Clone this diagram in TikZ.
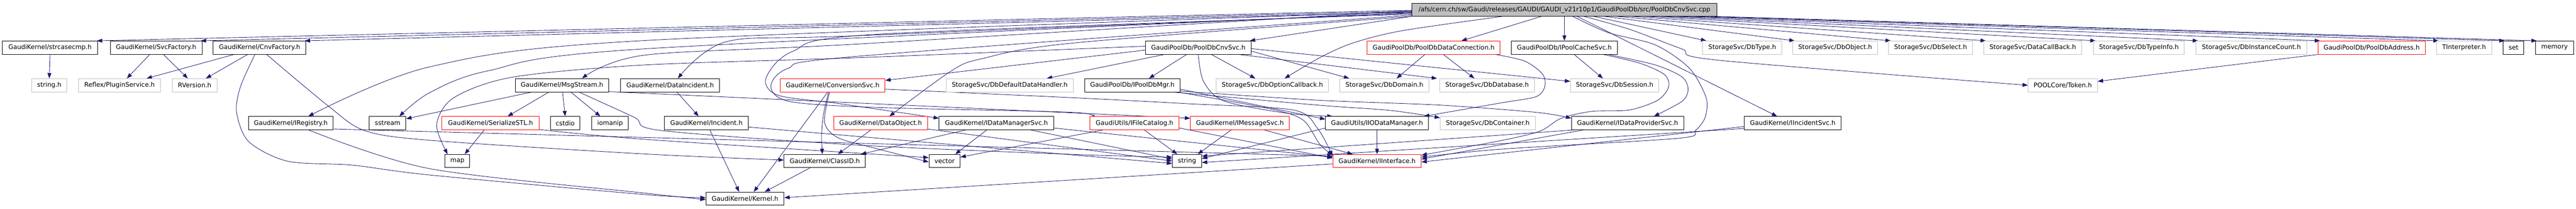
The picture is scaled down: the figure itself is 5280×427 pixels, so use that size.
\documentclass[tikz,border=0pt]{standalone}
\usepackage{fontspec}
\newfontfamily\dv{DejaVu Sans}
\usetikzlibrary{arrows.meta}
\pgfdeclarelayer{background}
\pgfsetlayers{background,main}
\definecolor{edgeblue}{HTML}{191970}
\definecolor{nodegray}{HTML}{BFBFBF}
\newcommand\dvfont{\dv\fontsize{13}{15}\selectfont}
\tikzset{
  nbox/.style={draw=black, line width=1pt, fill=white, minimum height=27pt, inner sep=0pt, font=\dvfont, text=black},
  gbox/.style={nbox, draw=nodegray},
  rbox/.style={nbox, draw=red},
  rootbox/.style={nbox, fill=nodegray},
  dep/.style={draw=edgeblue, line width=0.9pt, -{Triangle[length=11pt,width=8pt]}},
}
\begin{document}
\begin{tikzpicture}[x=1pt,y=-1pt]
\useasboundingbox (0,0) rectangle (5280,427);
% row 0
\node[rootbox,minimum width=625pt,minimum height=26pt] (root) at (3206.5,20) {/afs/cern.ch/sw/Gaudi/releases/GAUDI/GAUDI\_v21r10p1/GaudiPoolDb/src/PoolDbCnvSvc.cpp};
% row 1
\node[nbox,minimum width=195pt] (strc) at (102.5,97.5) {GaudiKernel/strcasecmp.h};
\node[nbox,minimum width=188pt] (svcf) at (320,97.5) {GaudiKernel/SvcFactory.h};
\node[nbox,minimum width=190pt] (cnvf) at (532,97.5) {GaudiKernel/CnvFactory.h};
\node[nbox,minimum width=216pt] (pcnv) at (2456,97.5) {GaudiPoolDb/PoolDbCnvSvc.h};
\node[rbox,minimum width=273pt] (pdc) at (2938.5,97.5) {GaudiPoolDb/PoolDbDataConnection.h};
\node[nbox,minimum width=217pt] (ipc) at (3206.5,97.5) {GaudiPoolDb/IPoolCacheSvc.h};
\node[gbox,minimum width=162pt] (dbtype) at (3571,97.5) {StorageSvc/DbType.h};
\node[gbox,minimum width=175pt] (dbobj) at (3761.5,97.5) {StorageSvc/DbObject.h};
\node[gbox,minimum width=172pt] (dbsel) at (3957,97.5) {StorageSvc/DbSelect.h};
\node[gbox,minimum width=201pt] (dcb) at (4166.5,97.5) {StorageSvc/DataCallBack.h};
\node[gbox,minimum width=186pt] (dbti) at (4384,97.5) {StorageSvc/DbTypeInfo.h};
\node[gbox,minimum width=227pt] (dbic) at (4614.5,97.5) {StorageSvc/DbInstanceCount.h};
\node[rbox,minimum width=220pt] (pda) at (4861,97.5) {GaudiPoolDb/PoolDbAddress.h};
\node[gbox,minimum width=113pt] (tint) at (5050.5,97.5) {TInterpreter.h};
\node[nbox,minimum width=42pt] (nset) at (5152,97.5) {set};
\node[nbox,minimum width=78pt] (mem) at (5236,97.5) {memory};
% row 2
\node[gbox,minimum width=72pt] (strh) at (101,174.5) {string.h};
\node[gbox,minimum width=168pt] (plug) at (245,174.5) {Reflex/PluginService.h};
\node[gbox,minimum width=92pt] (rver) at (399,174.5) {RVersion.h};
\node[nbox,minimum width=192pt] (msg) at (1152,174.5) {GaudiKernel/MsgStream.h};
\node[nbox,minimum width=203pt] (dinc) at (1373.5,174.5) {GaudiKernel/DataIncident.h};
\node[rbox,minimum width=215pt] (csvc) at (1706.5,174.5) {GaudiKernel/ConversionSvc.h};
\node[gbox,minimum width=261pt] (ddh) at (2069.5,174.5) {StorageSvc/DbDefaultDataHandler.h};
\node[nbox,minimum width=196pt] (ipdm) at (2321,174.5) {GaudiPoolDb/IPoolDbMgr.h};
\node[gbox,minimum width=230pt] (doc) at (2608,174.5) {StorageSvc/DbOptionCallback.h};
\node[gbox,minimum width=183pt] (dbdom) at (2837.5,174.5) {StorageSvc/DbDomain.h};
\node[gbox,minimum width=194pt] (dbdb) at (3048,174.5) {StorageSvc/DbDatabase.h};
\node[gbox,minimum width=181pt] (dbses) at (3309.5,174.5) {StorageSvc/DbSession.h};
\node[gbox,minimum width=142pt] (tok) at (4228,174.5) {POOLCore/Token.h};
% row 3
\node[nbox,minimum width=174pt] (ireg) at (596,252) {GaudiKernel/IRegistry.h};
\node[nbox,minimum width=75pt] (sstr) at (794.5,252) {sstream};
\node[rbox,minimum width=199pt] (ser) at (1005.5,252) {GaudiKernel/SerializeSTL.h};
\node[nbox,minimum width=61pt] (cstd) at (1158.5,252) {cstdio};
\node[nbox,minimum width=75pt] (ioma) at (1250.5,252) {iomanip};
\node[nbox,minimum width=172pt] (inc) at (1448,252) {GaudiKernel/Incident.h};
\node[rbox,minimum width=192pt] (dobj) at (1805,252) {GaudiKernel/DataObject.h};
\node[nbox,minimum width=235pt] (idms) at (2042.5,252) {GaudiKernel/IDataManagerSvc.h};
\node[rbox,minimum width=183pt] (ifc) at (2325.5,252) {GaudiUtils/IFileCatalog.h};
\node[rbox,minimum width=203pt] (imsg) at (2541.5,252) {GaudiKernel/IMessageSvc.h};
\node[nbox,minimum width=211pt] (iiod) at (2822.5,252) {GaudiUtils/IIODataManager.h};
\node[gbox,minimum width=195pt] (dbcont) at (3049.5,252) {StorageSvc/DbContainer.h};
\node[nbox,minimum width=230pt] (idps) at (3336,252) {GaudiKernel/IDataProviderSvc.h};
\node[nbox,minimum width=199pt] (iinc) at (3674.5,252) {GaudiKernel/IIncidentSvc.h};
% row 4
\node[nbox,minimum width=51pt] (nmap) at (937.5,329.5) {map};
\node[nbox,minimum width=167pt] (cid) at (1690.5,329.5) {GaudiKernel/ClassID.h};
\node[nbox,minimum width=64pt] (vec) at (1936,329.5) {vector};
\node[nbox,minimum width=60pt] (str) at (2433,329.5) {string};
\node[rbox,minimum width=181pt] (iint) at (2822.5,329.5) {GaudiKernel/IInterface.h};
% row 5
\node[nbox,minimum width=160pt] (kern) at (1527,406.5) {GaudiKernel/Kernel.h};

\begin{pgfonlayer}{background}
% ---- root edges, left side
\draw[dep] ([yshift=-1pt]root.west) -- ([xshift=-2pt]strc.north east);
\draw[dep] ([yshift=-3pt]root.west) -- ([xshift=-3pt]svcf.north east);
\draw[dep] ([yshift=-5pt]root.west) -- ([xshift=-3pt]cnvf.north east);
\draw[dep] plot[smooth] coordinates {([yshift=-4pt]root.west) (1320,83) (880,137) ([xshift=36pt]ireg.north)};
\draw[dep] plot[smooth] coordinates {([yshift=-6pt]root.west) (1320,100) (1000,145) (880,190) ([xshift=24pt]sstr.north)};
\draw[dep] plot[smooth] coordinates {([yshift=-2pt]root.west) (1760,90) (1320,113) ([xshift=41pt]msg.north)};
\draw[dep] plot[smooth] coordinates {([yshift=-7pt]root.west) (1760,73) (1490,85) ([xshift=16pt]dinc.north)};
\draw[dep] plot[smooth] coordinates {([yshift=-9pt]root.west) (1800,70) (1625,105) (1570,160) (1595,195) (1720,212) ([yshift=10pt]idms.west)};
\draw[dep] plot[smooth] coordinates {([yshift=-11pt]root.west) (1760,115) (1615,140) (1580,178) (1620,208) (1800,220) (2200,230) ([yshift=10pt]ifc.west)};
\draw[dep] plot[smooth] coordinates {(root.south west) (2200,88) (2013,120) (1950,145) ([xshift=18pt]dobj.north)};
\draw[dep] (root.south west) -- ([xshift=-3pt]pcnv.north east);
\draw[dep] plot[smooth] coordinates {([xshift=186pt]root.south west) (2873,63) (2773,88) (2707,117) ([xshift=25pt]doc.north)};
\draw[dep] ([xshift=266pt]root.south west) -- ([xshift=57pt]pdc.north);
\draw[dep] (root.south) -- (ipc.north);
% ---- root edges, right side
\draw[dep] ([xshift=339pt]root.south west) -- ([xshift=-32pt]iinc.north);
\draw[dep] plot[smooth] coordinates {([xshift=353pt]root.south west) (3340,60) (3447,100) (3520,123) (tok.west)};
\draw[dep] plot[smooth] coordinates {([xshift=330pt]root.south west) (3297,67) (3393,92) (3463,140) (3497,200) (3495,240) (3475,267) (3440,283) (3080,305) ([yshift=8pt]iint.east)};
\draw[dep] ([xshift=373pt]root.south west) -- ([xshift=8pt]dbtype.north west);
\draw[dep] ([xshift=395pt]root.south west) -- ([xshift=5pt]dbobj.north west);
\draw[dep] ([xshift=420pt]root.south west) -- ([xshift=5pt]dbsel.north west);
\draw[dep] ([xshift=450pt]root.south west) -- ([xshift=5pt]dcb.north west);
\draw[dep] ([xshift=480pt]root.south west) -- ([xshift=5pt]dbti.north west);
\draw[dep] ([xshift=510pt]root.south west) -- ([xshift=5pt]dbic.north west);
\draw[dep] ([xshift=540pt]root.south west) -- ([xshift=5pt]pda.north west);
\draw[dep] ([xshift=570pt]root.south west) -- ([xshift=5pt]tint.north west);
\draw[dep] ([xshift=600pt]root.south west) -- ([xshift=3pt]nset.north west);
\draw[dep] ([xshift=620pt]root.south west) -- ([xshift=3pt]mem.north west);
% ---- left group
\draw[dep] (strc.south) -- (strh.north);
\draw[dep] ([xshift=-13pt]svcf.south) -- ([xshift=15pt]plug.north);
\draw[dep] ([xshift=15pt]svcf.south) -- ([xshift=-14pt]rver.north);
\draw[dep] ([xshift=43pt]cnvf.south west) -- ([xshift=-29pt]plug.north east);
\draw[dep] ([xshift=71pt]cnvf.south west) -- ([xshift=23pt]rver.north);
\draw[dep] plot[smooth] coordinates {([xshift=86pt]cnvf.south west) (493,177) (485,230) (510,290) (590,330) (723,338) (880,358) (1320,398) ([yshift=2pt]kern.west)};
\draw[dep] plot[smooth] coordinates {([xshift=110pt]cnvf.south west) (673,217) (747,267) (880,287) (1320,315) ([yshift=2pt]cid.west)};
\draw[dep] plot[smooth] coordinates {([xshift=124pt]ireg.south west) (880,345) (1320,395) ([yshift=-2pt]kern.west)};
\draw[dep] ([yshift=-12pt]ireg.east) -- ([yshift=10pt]iint.west);
% ---- MsgStream group
\draw[dep] ([xshift=-27pt]msg.south) -- ([xshift=35pt]ser.north);
\draw[dep] ([xshift=1pt]msg.south) -- (cstd.north);
\draw[dep] ([xshift=18pt]msg.south) -- ([xshift=-20pt]ioma.north);
\draw[dep] ([xshift=34pt]msg.south west) -- ([yshift=9pt]sstr.east);
\draw[dep] ([yshift=-13pt]msg.east) -- ([yshift=10pt]imsg.west);
\draw[dep] plot[smooth] coordinates {([xshift=35pt]msg.south) (1300,240) (1355,267) (1760,297) (2200,316) ([yshift=8pt]str.west)};
\draw[dep] ([xshift=-13pt]ser.south) -- ([xshift=15pt]nmap.north);
\draw[dep] plot[smooth] coordinates {([yshift=-13pt]ser.east) (1320,285) ([yshift=7pt]vec.west)};
\draw[dep] plot[smooth] coordinates {([yshift=3pt]pcnv.west) (1760,118) (1320,133) (1050,158) (930,200) (895,255) ([xshift=-20pt]nmap.north)};
% ---- Incident / ConversionSvc group
\draw[dep] ([xshift=14pt]dinc.south) -- ([xshift=-16pt]inc.north);
\draw[dep] ([xshift=7pt]inc.south) -- ([xshift=-12pt]kern.north);
\draw[dep] ([yshift=-8pt]inc.east) -- ([yshift=-5pt]str.west);
\draw[dep] ([xshift=-10pt]csvc.south) -- ([xshift=18pt]kern.north);
\draw[dep] plot[smooth] coordinates {([xshift=-8pt]csvc.south) (1688,233) (1684,275) ([xshift=-5pt]cid.north)};
\draw[dep] plot[smooth] coordinates {([xshift=-6pt]csvc.south) (1690,250) (1718,282) (1800,305) ([yshift=-2pt]vec.west)};
\draw[dep] plot[smooth] coordinates {([yshift=-8pt]csvc.east) (2200,200) (2430,212) (2650,225) (2700,262) ([yshift=10pt]iint.west)};
\draw[dep] ([xshift=-20pt]dobj.south) -- ([xshift=27pt]cid.north);
\draw[dep] ([yshift=-12pt]dobj.east) -- (str.west);
\draw[dep] ([xshift=-20pt]idms.south) -- ([xshift=22pt]vec.north);
\draw[dep] ([xshift=55pt]idms.south west) -- ([xshift=-10pt]cid.north east);
\draw[dep] ([xshift=188pt]idms.south west) -- ([yshift=4pt]str.west);
\draw[dep] ([yshift=-10pt]idms.east) -- ([yshift=8pt]iint.west);
\draw[dep] ([xshift=-30pt]cid.south) -- ([xshift=-40pt]kern.north east);
\draw[dep] ([yshift=-6pt]iint.west) -- ([yshift=2pt]kern.east);
% ---- PoolDbCnvSvc group
\draw[dep] ([yshift=-5pt]pcnv.west) -- ([yshift=10pt]csvc.east);
\draw[dep] ([xshift=39pt]pcnv.south west) -- ([xshift=76pt]ddh.north);
\draw[dep] ([xshift=-24pt]pcnv.south) -- ([xshift=34pt]ipdm.north);
\draw[dep] ([xshift=27pt]pcnv.south) -- ([xshift=-35pt]doc.north);
\draw[dep] plot[smooth] coordinates {(pcnv.south) (2467,167) (2510,207) (2640,232) ([xshift=15pt]iiod.north west)};
\draw[dep] ([yshift=-7pt]pcnv.east) -- ([xshift=20pt]dbdom.north west);
\draw[dep] ([xshift=-25pt]pcnv.south east) -- ([xshift=-5pt]dbdb.north west);
\draw[dep] ([yshift=-2pt]pcnv.east) -- ([yshift=8pt]dbses.west);
\draw[dep] ([yshift=-8pt]ipdm.east) -- ([yshift=8pt]iiod.west);
\draw[dep] plot[smooth] coordinates {([xshift=-15pt]ipdm.south east) (2700,215) (2850,226) ([yshift=11pt]dbcont.west)};
\draw[dep] plot[smooth] coordinates {([xshift=-5pt]ipdm.south east) (2600,222) (2670,245) (2705,295) ([yshift=12pt]iint.west)};
\draw[dep] plot[smooth] coordinates {([yshift=-12pt]ipdm.east) (2700,205) (2950,215) (3150,230) ([yshift=10pt]idps.west)};
\draw[dep] ([xshift=20pt]ifc.south) -- ([xshift=-20pt]str.north);
\draw[dep] ([yshift=-10pt]ifc.east) -- ([yshift=6pt]iint.west);
\draw[dep] ([xshift=-65pt]ifc.south) -- ([yshift=8pt]vec.east);
\draw[dep] ([xshift=-18pt]imsg.south) -- ([xshift=22pt]str.north);
\draw[dep] ([xshift=50pt]imsg.south) -- ([xshift=-50pt]iint.north);
\draw[dep] (iiod.south) -- (iint.north);
\draw[dep] ([yshift=-10pt]iiod.west) -- ([yshift=5pt]str.east);
% ---- PoolDbDataConnection / IPoolCacheSvc group
\draw[dep] ([xshift=-18pt]pdc.south) -- ([xshift=25pt]dbdom.north);
\draw[dep] ([xshift=20pt]pdc.south) -- ([xshift=-26pt]dbdb.north);
\draw[dep] plot[smooth] coordinates {([xshift=-10pt]pdc.south east) (3125,125) (3162,152) (3166,178) (3148,198) (3080,210) ([xshift=-10pt]iiod.north east)};
\draw[dep] ([xshift=20pt]ipc.south) -- ([xshift=-24pt]dbses.north);
\draw[dep] plot[smooth] coordinates {([xshift=90pt]ipc.south) (3393,133) (3447,157) (3460,182) (3448,207) ([xshift=54pt]idps.north)};
\draw[dep] plot[smooth] coordinates {([xshift=80pt]ipc.south) (3363,130) (3412,153) (3420,178) (3398,205) (3340,225) (3262,228) (3200,242) (3157,268) (3080,287) ([yshift=12pt]iint.east)};
\draw[dep] ([xshift=25pt]idps.south west) -- ([yshift=4pt]iint.east);
\draw[dep] ([xshift=5pt]idps.south west) -- ([yshift=10pt]str.east);
\draw[dep] ([yshift=-7pt]iinc.west) -- ([yshift=-2pt]iint.east);
\draw[dep] ([yshift=-11pt]iinc.west) -- ([yshift=-3pt]str.east);
\draw[dep] (pda.south west) -- ([yshift=8pt]tok.east);
\end{pgfonlayer}
\end{tikzpicture}
\end{document}
